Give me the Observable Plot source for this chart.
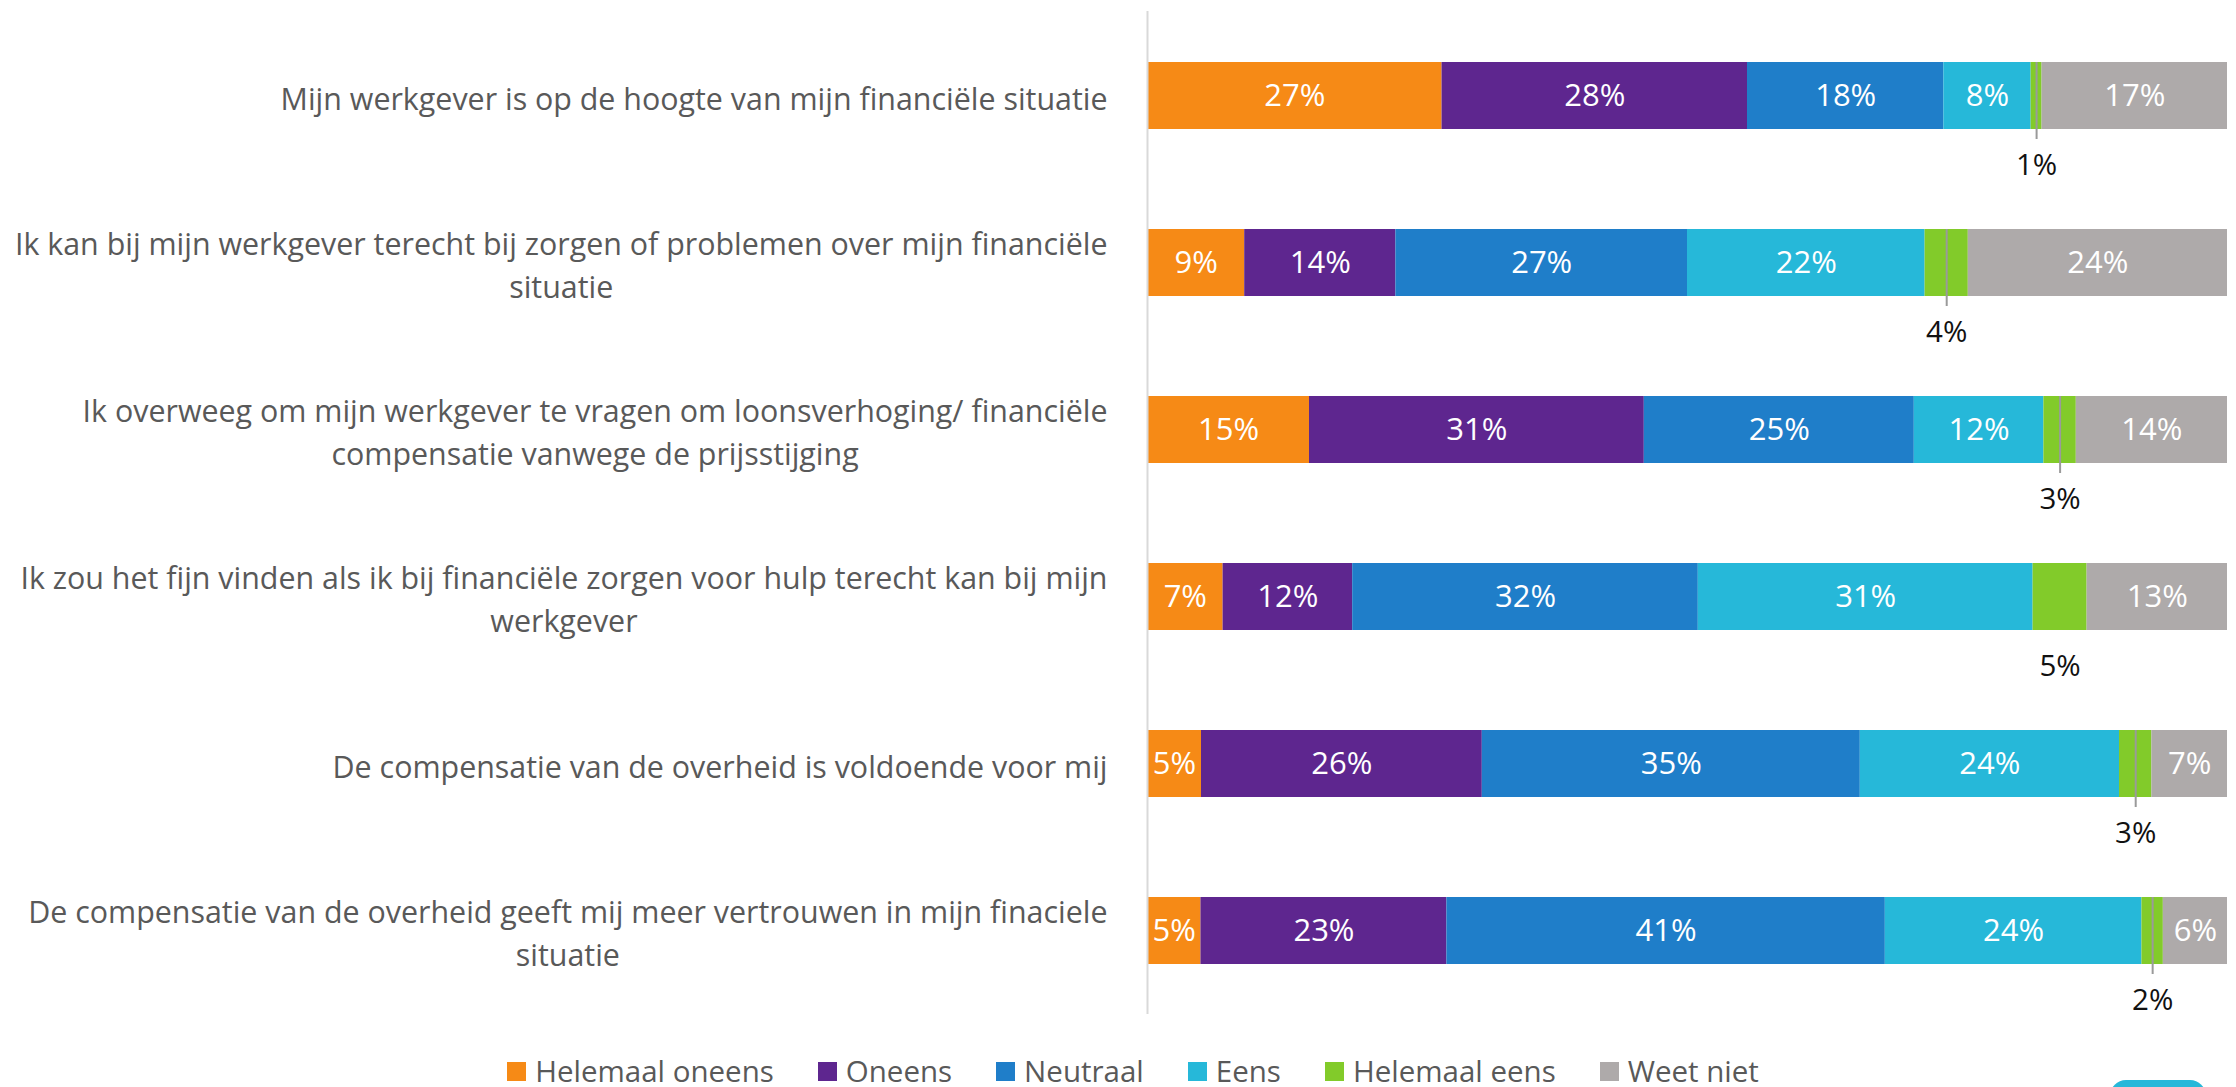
<!DOCTYPE html>
<html>
<head>
<meta charset="utf-8">
<script src="https://cdn.jsdelivr.net/npm/d3@7"></script>
<script src="https://cdn.jsdelivr.net/npm/@observablehq/plot@0.6"></script>
<style>
  html, body { margin: 0; padding: 0; background: #fff; }
  body { width: 2236px; height: 1087px; overflow: hidden; position: relative; font-family: "Open Sans", sans-serif; }
  #chart svg { display: block; }
  #legend { display: flex; justify-content: center; align-items: center; gap: 44px; padding-top: 17px; padding-left: 30px; font-size: 29.5px; color: #595959; line-height: 28px; height: 28px; }
  #legend .item { display: flex; align-items: center; gap: 9px; }
  #legend .sw { width: 19px; height: 19px; display: inline-block; }
  #btn { position: absolute; left: 2110px; top: 1080px; width: 96px; height: 40px; border-radius: 16px; background: #26B8D9; }
</style>
</head>
<body>
<div id="chart"></div>
<div id="legend"></div>
<div id="btn"></div>
<script>
// ---- data ----
const statements = [
  "Mijn werkgever is op de hoogte van mijn financiële situatie",
  "Ik kan bij mijn werkgever terecht bij zorgen of problemen over mijn financiële\nsituatie",
  "Ik overweeg om mijn werkgever te vragen om loonsverhoging/ financiële\ncompensatie vanwege de prijsstijging",
  "Ik zou het fijn vinden als ik bij financiële zorgen voor hulp terecht kan bij mijn\nwerkgever",
  "De compensatie van de overheid is voldoende voor mij",
  "De compensatie van de overheid geeft mij meer vertrouwen in mijn finaciele\nsituatie"
];
const categories = ["Helemaal oneens", "Oneens", "Neutraal", "Eens", "Helemaal eens", "Weet niet"];
const colors = ["#F68A16", "#5E268F", "#1F7EC9", "#26B8D9", "#82CB2A", "#AEAAAA"];

const helemaalOneens = [27, 9, 15, 7, 5, 5];
const oneens         = [28, 14, 31, 12, 26, 23];
const neutraal       = [18, 27, 25, 32, 35, 41];
const eens           = [8, 22, 12, 31, 24, 24];
const helemaalEens   = [1, 4, 3, 5, 3, 2];
const weetNiet       = [17, 24, 14, 13, 7, 6];

const series = [helemaalOneens, oneens, neutraal, eens, helemaalEens, weetNiet];
const outsideCategory = "Helemaal eens";

// ---- build table (stack, normalised to 100 per row) ----
const rows = [];
statements.forEach((s, i) => {
  const total = d3.sum(series, a => a[i]);
  let acc = 0;
  categories.forEach((c, j) => {
    const v = series[j][i];
    const share = v / total * 100;
    rows.push({statement: s, category: c, value: v, x1: acc, x2: acc + share, mid: acc + share / 2});
    acc += share;
  });
});
const inside = rows.filter(d => d.category !== outsideCategory);
const outside = rows.filter(d => d.category === outsideCategory);
const leaders = outside.filter(d => d.value < 5);

const W = 2236, H = 1040;
const chart = Plot.plot({
  width: W,
  height: H,
  marginLeft: 1147,
  marginRight: 9,
  marginTop: 11,
  marginBottom: 26,
  style: {fontFamily: "Open Sans, sans-serif", background: "#fff"},
  x: {domain: [0, 100], axis: null},
  y: {domain: statements, paddingInner: 0.6, paddingOuter: 0.3, axis: null},
  color: {domain: categories, range: colors},
  marks: [
    Plot.barX(rows, {x1: "x1", x2: "x2", y: "statement", fill: "category"}),
    Plot.tickX(leaders, {x: "mid", y: "statement", insetBottom: -10, stroke: "#9A9A9A", strokeWidth: 2}),
    Plot.text(inside, {x: "mid", y: "statement", text: d => d.value + "%", fill: "white", fontSize: 31}),
    Plot.text(outside, {x: "mid", y: "statement", text: d => d.value + "%", fill: "#111", fontSize: 29.5, dy: 70}),
    Plot.ruleX([0], {stroke: "#D9D9D9", strokeWidth: 2}),
    Plot.text(statements, {x: 0, y: d => d, text: d => d, textAnchor: "end", dx: -40, fontSize: 30.4, lineHeight: 1.4, fill: "#595959", className: "stmt"})
  ]
});
document.getElementById("chart").appendChild(chart);

// centre each wrapped label's lines under each other, keeping the block right-aligned
const stmtGroup = chart.querySelector(".stmt");
if (stmtGroup) {
  stmtGroup.querySelectorAll("text").forEach(t => {
    const w = t.getBBox().width;
    t.setAttribute("text-anchor", "middle");
    const tr = t.getAttribute("transform") || "";
    t.setAttribute("transform", tr + ` translate(${-w / 2},0)`);
  });
}

// legend
const legend = document.getElementById("legend");
categories.forEach((c, j) => {
  const item = document.createElement("span");
  item.className = "item";
  const sw = document.createElement("span");
  sw.className = "sw";
  sw.style.background = colors[j];
  const lab = document.createElement("span");
  lab.textContent = c;
  item.appendChild(sw);
  item.appendChild(lab);
  legend.appendChild(item);
});
</script>
</body>
</html>
